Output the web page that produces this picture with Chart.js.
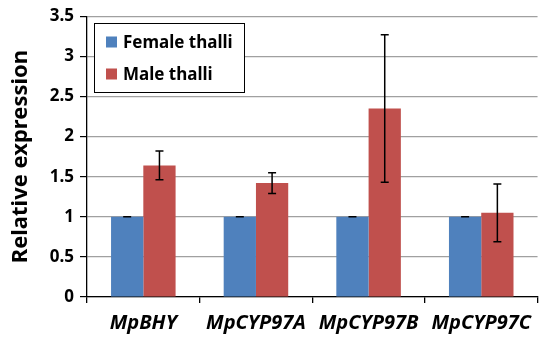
<!DOCTYPE html>
<html>
<head>
<meta charset="utf-8">
<script src="https://cdn.jsdelivr.net/npm/chart.js@4"></script>
<style>
  html, body { margin: 0; padding: 0; background: #fff; }
  #wrap { width: 539px; height: 341px; }
</style>
</head>
<body>
<div id="wrap"><canvas id="chart" width="539" height="341"></canvas></div>
<script>
// Data
const categories = ['MpBHY', 'MpCYP97A', 'MpCYP97B', 'MpCYP97C'];
const seriesNames = ['Female thalli', 'Male thalli'];
const femaleValues = [1, 1, 1, 1];
const maleValues = [1.64, 1.42, 2.35, 1.05];
const femaleErrors = [0, 0, 0, 0];
const maleErrors = [0.18, 0.13, 0.92, 0.36];
const yTicks = [0, 0.5, 1, 1.5, 2, 2.5, 3, 3.5];

const FONT = "'Noto Sans', 'DejaVu Sans', sans-serif";
const BLUE = '#4F81BD';
const RED = '#C0504D';

// Draws error bars on top of each bar
const errorBars = {
    id: 'errorBars',
    afterDatasetsDraw(chart) {
        const ctx = chart.ctx;
        const y = chart.scales.y;
        ctx.save();
        ctx.strokeStyle = '#000';
        ctx.lineWidth = 1.5;
        chart.data.datasets.forEach((ds, i) => {
            const meta = chart.getDatasetMeta(i);
            meta.data.forEach((bar, j) => {
                const v = ds.data[j];
                const e = ds.errors[j];
                const x = bar.x;
                const top = y.getPixelForValue(v + e);
                const bot = y.getPixelForValue(v - e);
                const half = 4;
                ctx.beginPath();
                ctx.moveTo(x, top); ctx.lineTo(x, bot);
                ctx.moveTo(x - half, top); ctx.lineTo(x + half, top);
                ctx.moveTo(x - half, bot); ctx.lineTo(x + half, bot);
                ctx.stroke();
            });
        });
        ctx.restore();
    }
};

// Boxed legend inside the plot, top left
const boxLegend = {
    id: 'boxLegend',
    afterDraw(chart) {
        const ctx = chart.ctx;
        const left = 94, top = 23, w = 150, h = 69;
        ctx.save();
        ctx.fillStyle = '#fff';
        ctx.fillRect(left, top, w, h);
        ctx.strokeStyle = '#000';
        ctx.lineWidth = 1;
        ctx.strokeRect(left + 0.5, top + 0.5, w, h);
        ctx.font = 'bold 17px ' + FONT;
        ctx.textBaseline = 'middle';
        ctx.textAlign = 'left';
        const rows = [42, 74];
        chart.data.datasets.forEach((ds, i) => {
            ctx.fillStyle = ds.backgroundColor;
            ctx.fillRect(106, rows[i] - 5.5, 11, 11);
            ctx.fillStyle = '#000';
            ctx.fillText(ds.label, 123, rows[i] + 1);
        });
        ctx.restore();
    }
};

new Chart(document.getElementById('chart'), {
    type: 'bar',
    data: {
        labels: categories,
        datasets: [
            { label: seriesNames[0], data: femaleValues, errors: femaleErrors, backgroundColor: BLUE },
            { label: seriesNames[1], data: maleValues, errors: maleErrors, backgroundColor: RED }
        ]
    },
    options: {
        responsive: false,
        animation: false,
        layout: { padding: { top: 16, right: 0, left: 0, bottom: 0 } },
        datasets: { bar: { barPercentage: 1, categoryPercentage: 0.573 } },
        plugins: {
            legend: { display: false },
            tooltip: { enabled: false }
        },
        scales: {
            x: {
                afterFit(s) { s.height = 44; },
                grid: { offset: true, drawOnChartArea: false, drawTicks: true, tickLength: 6, tickColor: '#000', lineWidth: 1.3 },
                border: { color: '#000', width: 1.3 },
                ticks: {
                    color: '#000',
                    padding: 8,
                    font: { family: FONT, size: 20, weight: 'bold', style: 'italic' }
                }
            },
            y: {
                min: 0,
                max: 3.5,
                afterFit(s) { s.width = 87; },
                afterBuildTicks(s) { s.ticks = yTicks.map(v => ({ value: v })); },
                grid: { color: '#a0a0a0', lineWidth: 1.2, tickLength: 7, tickColor: '#000' },
                border: { color: '#000', width: 1.3 },
                ticks: {
                    color: '#000',
                    padding: 6,
                    font: { family: FONT, size: 17, weight: 'bold' },
                    callback: v => String(v)
                },
                title: {
                    display: true,
                    text: 'Relative expression',
                    color: '#000',
                    padding: { top: 8, bottom: 0 },
                    font: { family: FONT, size: 22, weight: 'bold' }
                }
            }
        }
    },
    plugins: [errorBars, boxLegend]
});
</script>
</body>
</html>
